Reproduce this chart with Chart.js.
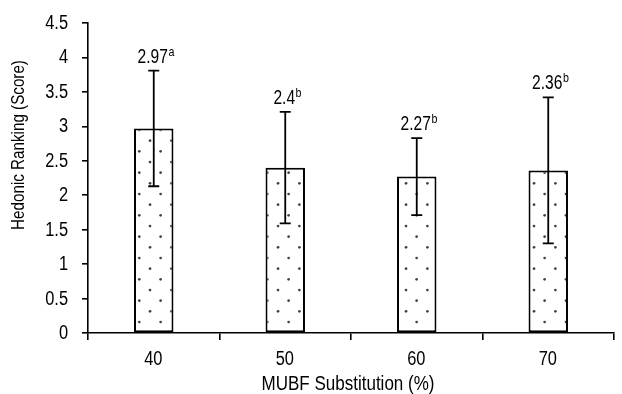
<!DOCTYPE html>
<html>
<head>
<meta charset="utf-8">
<script src="https://cdn.jsdelivr.net/npm/chart.js@4/dist/chart.umd.min.js"></script>
<style>
html,body{margin:0;padding:0;background:#fff;}
#wrap{width:622px;height:394px;position:relative;}
</style>
</head>
<body>
<div id="wrap"><canvas id="c" width="622" height="394"></canvas></div>
<script>
const categories = ['40', '50', '60', '70'];
const means = [2.97, 2.4, 2.27, 2.36];
const sds = [0.84, 0.81, 0.56, 1.06];
const letters = ['a', 'b', 'b', 'b'];
const yTicks = [0, 0.5, 1, 1.5, 2, 2.5, 3, 3.5, 4, 4.5];
const xTitle = 'MUBF Substitution (%)';
const yTitle = 'Hedonic Ranking (Score)';

const FONT = '"Liberation Sans", Arial, sans-serif';

function makePattern() {
  const t = document.createElement('canvas');
  t.width = 64; t.height = 64;
  const g = t.getContext('2d');
  g.fillStyle = '#fff';
  g.fillRect(0, 0, 64, 64);
  g.fillStyle = '#444';
  const p = 64 / 3;
  for (let i = -1; i < 4; i++) {
    for (let j = -1; j < 4; j++) {
      g.beginPath(); g.arc(11.3 + p * i, 2 + p * j, 1.35, 0, Math.PI * 2); g.fill();
      g.beginPath(); g.arc(0.7 + p * i, 12.7 + p * j, 1.35, 0, Math.PI * 2); g.fill();
    }
  }
  return document.getElementById('c').getContext('2d').createPattern(t, 'repeat');
}

// draw condensed text: scale along the text direction
function condText(ctx, txt, x, y, size, sx, align) {
  ctx.save();
  ctx.translate(x, y);
  ctx.scale(sx, 1);
  ctx.font = size + 'px ' + FONT;
  ctx.textAlign = align;
  ctx.fillText(txt, 0, 0);
  const w = ctx.measureText(txt).width * sx;
  ctx.restore();
  return w;
}

const overlay = {
  id: 'overlay',
  afterDraw(chart) {
    const ctx = chart.ctx;
    const y = chart.scales.y;
    const xs = chart.scales.x;
    const meta = chart.getDatasetMeta(0);
    ctx.save();
    ctx.fillStyle = '#000';
    ctx.strokeStyle = '#000';
    // tick labels (condensed) at library tick positions
    ctx.textBaseline = 'middle';
    y.ticks.forEach((t, i) => {
      condText(ctx, String(t.value), 68, y.getPixelForTick(i) + 0.5, 20, 0.82, 'right');
    });
    xs.ticks.forEach((t, i) => {
      condText(ctx, categories[t.value], xs.getPixelForTick(i) - 0.5, 359.5, 20, 0.82, 'center');
    });
    ctx.lineWidth = 1.8;
    meta.data.forEach((bar, i) => {
      const x = bar.x;
      const top = y.getPixelForValue(means[i] + sds[i]);
      const bot = y.getPixelForValue(means[i] - sds[i]);
      ctx.beginPath();
      ctx.moveTo(x, top); ctx.lineTo(x, bot);
      ctx.moveTo(x - 5.5, top); ctx.lineTo(x + 5.5, top);
      ctx.moveTo(x - 5.5, bot); ctx.lineTo(x + 5.5, bot);
      ctx.stroke();
      // label
      const txt = String(means[i]);
      ctx.textBaseline = 'alphabetic';
      const base = top - 8;
      ctx.font = '20px ' + FONT;
      const w = ctx.measureText(txt).width * 0.78;
      condText(ctx, txt, x - 1, base, 20, 0.78, 'center');
      condText(ctx, letters[i], x - 1 + w / 2 + 0.5, base - 7, 13, 0.82, 'left');
    });
    // axis titles
    ctx.textBaseline = 'middle';
    condText(ctx, xTitle, 348, 384, 20.5, 0.83, 'center');
    ctx.translate(19, 145);
    ctx.rotate(-Math.PI / 2);
    condText(ctx, yTitle, 0, 0, 19, 0.8, 'center');
    ctx.restore();
  }
};

new Chart(document.getElementById('c'), {
  type: 'bar',
  data: {
    labels: categories,
    datasets: [{
      data: means,
      backgroundColor: makePattern(),
      borderColor: '#000',
      borderWidth: 2,
      borderSkipped: false,
      barPercentage: 0.3,
      categoryPercentage: 1
    }]
  },
  options: {
    responsive: false,
    animation: false,
    events: [],
    layout: { padding: { left: 0, right: 8, top: 23, bottom: 0 } },
    plugins: { legend: { display: false }, tooltip: { enabled: false } },
    scales: {
      x: {
        offset: true,
        border: { display: true, color: '#000', width: 1.6 },
        grid: { display: true, offset: true, drawOnChartArea: false, drawTicks: true, tickLength: 7, color: '#000', lineWidth: 1.6 },
        ticks: { display: false },
        afterFit(s) { s.height = 61; }
      },
      y: {
        min: 0, max: 4.5,
        afterBuildTicks(s) { s.ticks = yTicks.map(v => ({ value: v })); },
        border: { display: true, color: '#000', width: 1.6 },
        grid: { display: true, drawOnChartArea: false, drawTicks: true, tickLength: 6, color: '#000', lineWidth: 1.6 },
        ticks: { display: false },
        afterFit(s) { s.width = 88; }
      }
    }
  },
  plugins: [overlay]
});
</script>
</body>
</html>
